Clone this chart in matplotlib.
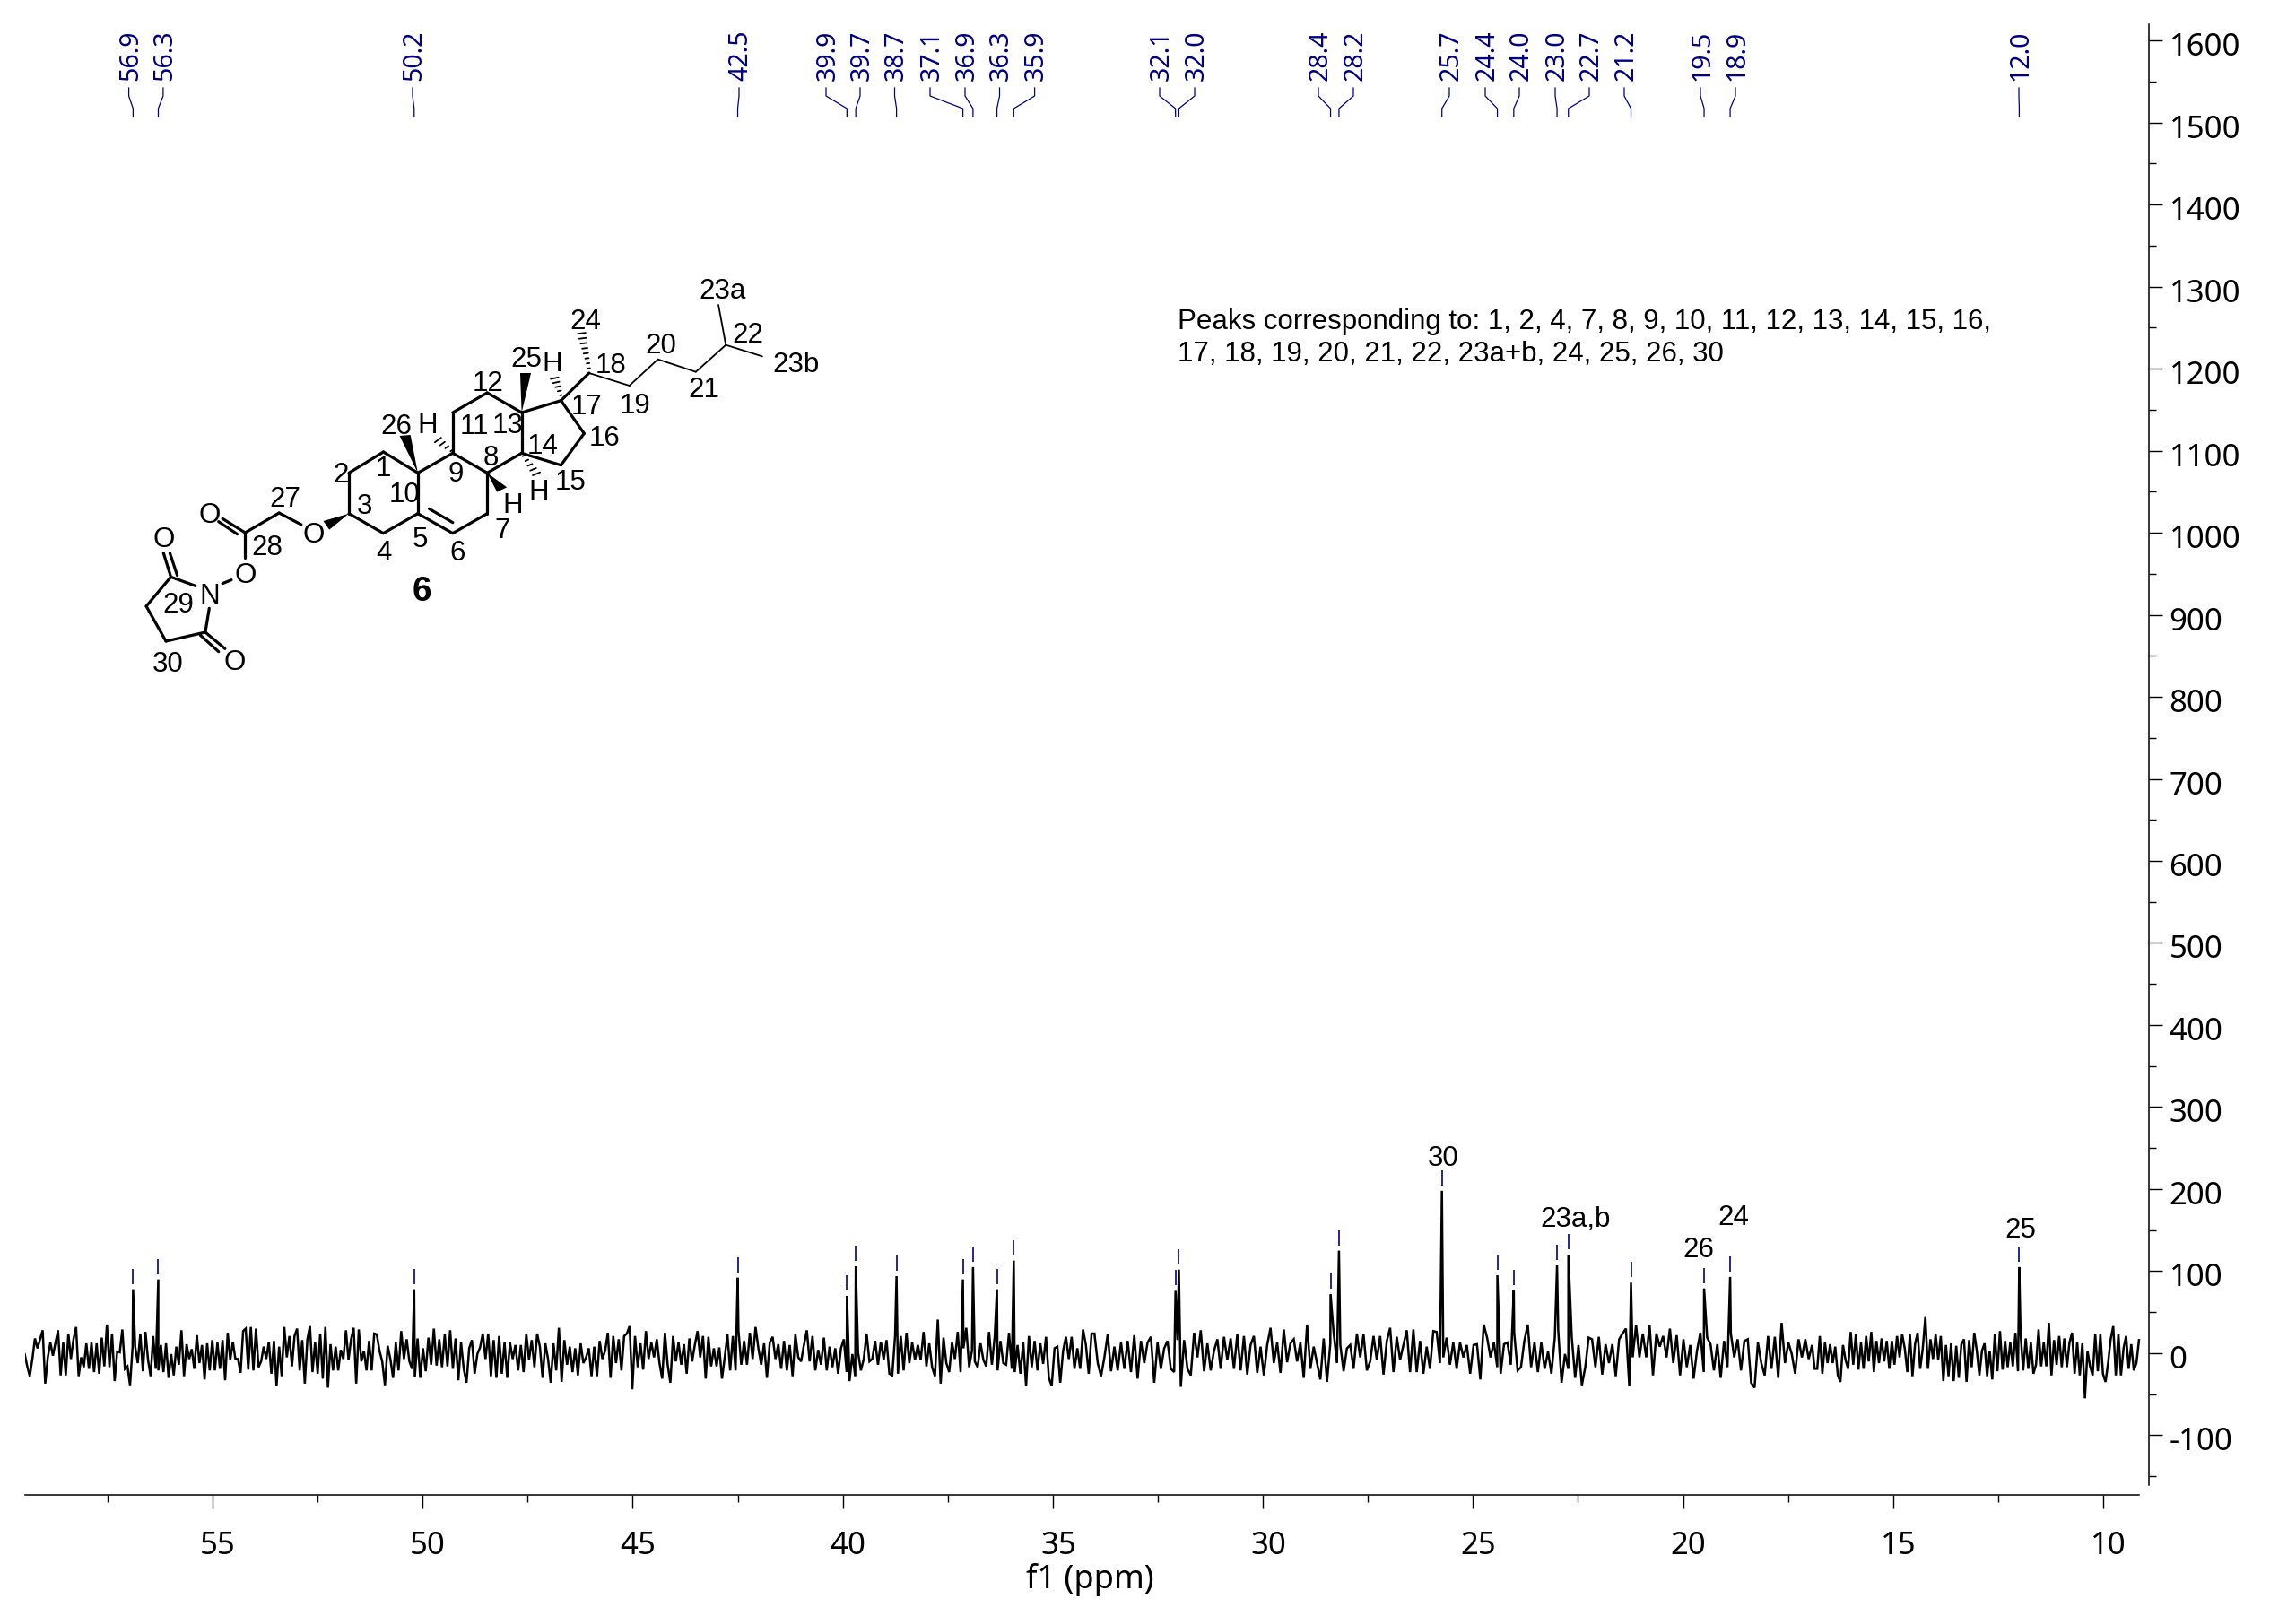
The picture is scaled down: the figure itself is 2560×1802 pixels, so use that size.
import numpy as np
import matplotlib
matplotlib.use("Agg")
import matplotlib.pyplot as plt
from matplotlib.transforms import ScaledTranslation

plt.rcParams["axes.unicode_minus"] = False

# peak picking
peak_ppm = [56.89, 56.29, 50.20, 42.50, 39.90, 39.69, 38.72, 37.14, 36.90, 36.33, 35.93,
            32.08, 32.00, 28.39, 28.19, 25.74, 24.42, 24.03, 23.00, 22.73, 21.24,
            19.50, 18.88, 12.00]
peak_height = [78, 90, 78, 92, 70, 106, 94, 90, 105, 78, 113,
               76, 102, 72, 125, 198, 95, 77, 107, 120, 86,
               79, 93, 105]
peak_labels = ["56.9", "56.3", "50.2", "42.5", "39.9", "39.7", "38.7", "37.1", "36.9", "36.3", "35.9",
               "32.1", "32.0", "28.4", "28.2", "25.7", "24.4", "24.0", "23.0", "22.7", "21.2",
               "19.5", "18.9", "12.0"]

# baseline noise, one list per stretch
strip_edges = [59.47, 51.09, 42.55, 34.01, 25.47, 16.93, 9.15]
noise_a = [-1,-16,-28,-7,18,6,17,28,-37,-5,13,-3,13,28,-27,13,-27,24,-7,17,32,-28,-5,-17,12,-19,13,-23,12,-25,
           19,-16,35,-17,24,-34,2,1,29,-19,-16,-39,8,8,-12,24,-22,26,-8,-28,21,-19,-21,10,-23,12,-30,-1,-27,8,
           -14,28,-28,11,-7,5,-19,22,-12,10,-32,12,-21,16,-21,13,-19,16,-33,25,-8,14,-7,-7,-24,27,30,-20,32,-21,
           30,-17,-10,8,-7,14,-25,15,-40,8,-28,32,-5,21,-16,21,30,-21,16,-37,17,33,-23,13,-25,24,-31,32,-42,11,
           -21,8,-21,4,-7,28,-8,17,31,-37,29,-10,3,-21,15,-21,24]
noise_b = [23,3,-10,-39,9,-7,-30,13,-21,27,-7,17,-10,-19,-29,18,-30,6,-22,19,-14,30,-15,17,-17,23,-16,28,-19,18,
           -33,13,-19,-36,6,16,-25,-1,7,24,-7,24,-28,16,-30,21,-25,13,-30,13,-7,10,-21,10,-23,24,-8,16,-17,24,
           8,-30,12,-7,-36,12,-21,31,-35,16,-14,8,-23,6,-27,12,-12,-5,6,-28,8,-28,15,-7,3,25,-30,21,-12,17,
           -21,21,24,33,-44,21,-17,12,-20,27,-7,13,-5,17,-12,-31,25,-14,-36,21,-10,13,-14,11,-25,18,-10,10,27,-5,
           21,-31,20,-16,6,-16,7,-31,-5,23,-21,21]
noise_c = [-21,28,-14,15,-14,25,-7,32,6,-14,12,-30,13,20,-7,11,-19,15,-21,10,-28,23,-5,-10,10,28,-10,21,-21,4,
           -14,19,-21,8,-17,6,-25,6,17,-23,-34,-1,-28,1,-21,-7,24,-10,-7,15,-14,14,-8,16,-25,-27,21,-25,21,-21,
           25,-12,13,-8,10,-8,26,-16,12,-17,-28,41,-37,19,-12,-23,13,-7,26,-23,6,31,-17,3,-10,-17,12,-8,-16,26,
           -14,21,-21,15,-12,-14,25,-19,-23,10,-25,13,-40,21,-17,15,-21,12,-13,20,-30,-40,6,8,-36,3,20,-7,20,-19,
           6,-19,29,10,-25,24]
noise_d = [24,-12,-28,-5,23,-22,8,-21,13,-19,15,-23,22,-31,15,-12,13,20,-36,13,-19,6,15,-19,-23,16,-41,16,-19,-27,
           25,-5,28,-22,12,-21,3,17,-19,20,-8,18,-19,23,-21,21,-26,10,21,-24,8,-27,10,31,-12,13,-24,29,-11,12,
           17,-10,13,-30,35,-19,8,-12,-32,18,-35,12,25,-12,10,-22,6,10,-19,24,-5,23,-21,-10,21,-8,21,-26,15,31,
           -23,20,-8,10,28,-23,29,-23,15,-25,8,-19,27,26,-12,-5,19,-14]
noise_e = [13,-19,13,-5,10,-25,10,11,-32,35,19,-5,13,-17,-25,11,13,-14,25,-21,-17,15,35,-17,13,-23,13,-19,2,-25,
           19,28,-36,-1,-19,20,-30,10,-39,-17,19,17,-17,20,-26,11,-12,11,-28,17,24,30,-40,-5,34,-5,24,-5,34,-27,
           24,8,21,-5,30,-12,22,-27,17,-17,10,-31,3,25,-23,19,11,-21,11,-30,15,-17,24,-5,17,-21,15,17,-36,-42,
           13,-12,-27,21,-19,20,-30,37,-12,13,-1,-25,17,-5,17,-7]
noise_f = [10,-19,-19,21,-25,13,-12,11,-12,8,-27,-35,10,-8,-19,26,-14,23,-20,13,-19,21,-10,26,-23,15,-12,18,-10,15,
           -19,15,-14,21,-5,23,6,-23,23,-28,11,25,-19,6,44,-19,17,-7,23,-8,21,-34,10,-28,12,-34,9,-30,11,17,
           -35,16,-17,25,3,-27,3,12,-28,3,-32,23,-22,27,-20,15,-17,13,-16,25,-22,24,-21,18,-19,13,-25,-14,29,-16,
           13,-16,37,-27,16,-14,21,-17,18,-17,13,25,-25,13,-27,12,-55,3,-16,-27,23,-22,23,-25,-35,-12,17,33,-27,24,
           -27,6,21,-19,11,-21,-12,16]
noise_strips = [noise_a, noise_b, noise_c, noise_d, noise_e, noise_f]

x_major = [55, 50, 45, 40, 35, 30, 25, 20, 15, 10]
y_major = list(range(-100, 1601, 100))

# carbons assigned on the spectrum
assigned_labels = ["30", "23a,b", "26", "24", "25"]

# layout in image pixels
top_label_x = [145.6, 183.9, 462, 826, 923, 961, 999.5, 1039, 1078, 1116.5, 1155.6,
               1295, 1334, 1472, 1511, 1618, 1658, 1696, 1736, 1774, 1813,
               1898, 1937, 2253]
assigned_xy = [(1609, 1292), (1757, 1360), (1894, 1394), (1933, 1358), (2253, 1372)]

NAVY = "#000080"
AXIS_FONT = "Noto Sans"
MOL_FONT = "Liberation Sans"
LABEL_SIZE = 22.5
W, H = 2560, 1802

fig = plt.figure(figsize=(W / 100, H / 100), dpi=100)
ax = fig.add_axes([27.5 / W, 1 - 1667 / H, (2395.7 - 27.5) / W, (1667 - 27) / H])
ax.patch.set_alpha(0)

# noise stretches plus the peak tops, sorted along the ppm axis
xs, ys = [], []
for i, strip in enumerate(noise_strips):
    xs.append(np.linspace(strip_edges[i], strip_edges[i + 1], len(strip), endpoint=i == len(noise_strips) - 1))
    ys.append(np.array(strip, dtype=float))
xs.append(np.array(peak_ppm))
ys.append(np.array(peak_height, dtype=float))
xs = np.concatenate(xs)
ys = np.concatenate(ys)
order = np.argsort(-xs)
ax.plot(xs[order], ys[order], color="black", lw=1.8, solid_joinstyle="miter")

ax.set_xlim(59.47, 8.92)
ax.set_ylim(-172.7, 1619.7)
ax.spines["top"].set_visible(False)
ax.spines["left"].set_visible(False)
ax.spines["right"].set_bounds(-161, 1620)
ax.spines["bottom"].set_bounds(59.47, 9.15)
ax.spines["right"].set_linewidth(1.1)
ax.spines["bottom"].set_linewidth(1.1)

ax.yaxis.tick_right()
ax.set_xticks(x_major)
ax.set_xticks(np.arange(57.5, 9, -5), minor=True)
ax.set_yticks(y_major)
ax.set_yticks(np.arange(-150, 1600, 100), minor=True)
ax.tick_params(axis="both", which="major", length=10.5, width=1.0, labelsize=25, pad=6)
ax.tick_params(axis="both", which="minor", length=5.5, width=1.0)
ax.tick_params(axis="x", which="major", pad=18)
for lbl in ax.get_xticklabels():
    lbl.set_fontfamily(AXIS_FONT)
    lbl.set_transform(lbl.get_transform() + ScaledTranslation(6 / 100, 0, fig.dpi_scale_trans))
for lbl in ax.get_yticklabels():
    lbl.set_fontfamily(AXIS_FONT)
    lbl.set_transform(lbl.get_transform() + ScaledTranslation(0, -4 / 100, fig.dpi_scale_trans))

# overlay in image pixels for everything that is not on the data axes
ov = fig.add_axes([0, 0, 1, 1])
ov.set_xlim(0, W)
ov.set_ylim(H, 0)
ov.axis("off")

ov.text(1215, 1762, "f1 (ppm)", fontsize=26, family=AXIS_FONT, ha="center", va="center")

# peak list along the top with connectors, and small ticks over the peaks
for ppm, height, label, lx in zip(peak_ppm, peak_height, peak_labels, top_label_x):
    px, py = ax.transData.transform((ppm, height))
    py = H - py
    ov.plot([lx - 2, lx - 2, px, px], [98, 107, 121, 130], color=NAVY, lw=0.9)
    ov.text(lx, 62, label, rotation=90, color=NAVY, fontsize=20.5, family=AXIS_FONT, ha="center", va="center")
    ov.plot([px, px], [py - 23, py - 6], color=NAVY, lw=1.2, solid_capstyle="butt")

for label, (lx, ly) in zip(assigned_labels, assigned_xy):
    ov.text(lx, ly, label, fontsize=LABEL_SIZE, family=MOL_FONT, ha="center", va="center")

ov.text(1313, 359, "Peaks corresponding to: 1, 2, 4, 7, 8, 9, 10, 11, 12, 13, 14, 15, 16,",
        fontsize=LABEL_SIZE, family=MOL_FONT, ha="left", va="center")
ov.text(1313, 395, "17, 18, 19, 20, 21, 22, 23a+b, 24, 25, 26, 30",
        fontsize=LABEL_SIZE, family=MOL_FONT, ha="left", va="center")


# structure drawing, coordinates measured on a crop of the image
def mx(x):
    return 100 + x / 1.823


def my(y):
    return 280 + y / 3


def bond(p, q, lw=2.3):
    ov.plot([mx(p[0]), mx(q[0])], [my(p[1]), my(q[1])], color="black", lw=lw, solid_capstyle="round")


def wedge(tip, a, b):
    ov.fill([mx(tip[0]), mx(a[0]), mx(b[0])], [my(tip[1]), my(a[1]), my(b[1])], color="black", lw=0)


def hashed(p, q, n=6):
    for t in np.linspace(0, 1, n):
        cx = p[0] + (q[0] - p[0]) * t
        cy = p[1] + (q[1] - p[1]) * t
        half = 2 + 6 * t
        dx, dy = q[1] - p[1], -(q[0] - p[0])
        d = np.hypot(dx, dy)
        bond((cx - dx / d * half, cy - dy / d * half * 1.6), (cx + dx / d * half, cy + dy / d * half * 1.6), lw=1.3)


thick_bonds = [
    ((667, 742), (597, 672)), ((597, 672), (527, 742)), ((527, 742), (527, 878)), ((527, 878), (597, 944)),
    ((597, 944), (667, 878)), ((667, 878), (667, 742)), ((667, 742), (738, 676)), ((738, 676), (808, 742)),
    ((808, 742), (808, 878)), ((808, 878), (738, 944)), ((738, 944), (667, 878)), ((690, 862), (738, 908)),
    ((738, 676), (738, 540)), ((738, 540), (808, 474)), ((808, 474), (878, 540)), ((878, 540), (878, 676)),
    ((878, 676), (808, 742)), ((878, 540), (958, 500)), ((958, 500), (1005, 610)), ((1005, 610), (958, 716)),
    ((958, 716), (878, 676)), ((958, 500), (1015, 408)),
    ((430, 915), (385, 876)), ((385, 876), (316, 942)), ((316, 942), (270, 895)), ((300, 947), (262, 905)),
    ((316, 942), (316, 1025)), ((288, 1100), (270, 1112)), ((215, 1120), (165, 1090)), ((165, 1090), (115, 1188)),
    ((115, 1188), (155, 1305)), ((155, 1305), (235, 1275)), ((235, 1275), (243, 1195)),
    ((165, 1090), (150, 1010)), ((178, 1085), (163, 1010)), ((235, 1275), (275, 1330)), ((225, 1285), (262, 1340)),
]
thin_bonds = [
    ((1015, 408), (1097, 450)), ((1097, 450), (1155, 362)), ((1155, 362), (1232, 404)),
    ((1232, 404), (1293, 314)), ((1293, 314), (1278, 180)), ((1293, 314), (1367, 352)),
]
for p, q in thick_bonds:
    bond(p, q)
for p, q in thin_bonds:
    bond(p, q, lw=1.3)

wedge((667, 742), (630, 618), (652, 615))
wedge((878, 540), (875, 408), (897, 408))
wedge((808, 742), (828, 806), (848, 790))
wedge((527, 878), (475, 903), (487, 932))
hashed((735, 668), (708, 632), n=4)
hashed((958, 482), (945, 425), n=5)
hashed((1015, 392), (1000, 275), n=8)
hashed((882, 685), (908, 745), n=5)

mol_labels = [
    ("23a", 1287, 128), ("22", 1338, 275), ("23b", 1435, 375), ("24", 1007, 230), ("18", 1060, 378),
    ("20", 1160, 313), ("25", 888, 357), ("H", 940, 372), ("12", 810, 437), ("17", 1010, 517),
    ("19", 1108, 512), ("21", 1248, 460), ("11", 782, 582), ("13", 850, 580), ("16", 1047, 622),
    ("26", 623, 582), ("H", 686, 580), ("14", 920, 647), ("8", 816, 688), ("2", 510, 745),
    ("1", 596, 722), ("9", 745, 742), ("15", 978, 768), ("H", 913, 800), ("10", 640, 810),
    ("H", 860, 845), ("27", 397, 825), ("3", 558, 850), ("O", 243, 880), ("7", 838, 930),
    ("O", 455, 945), ("O", 150, 960), ("5", 672, 960), ("28", 360, 988), ("4", 597, 1005),
    ("6", 748, 1005), ("O", 316, 1080), ("N", 243, 1150), ("29", 180, 1178), ("30", 158, 1378),
    ("O", 295, 1370),
]
for text, x, y in mol_labels:
    ov.text(mx(x), my(y + 6), text, fontsize=LABEL_SIZE, family=MOL_FONT, ha="center", va="center")
ov.text(mx(676), my(1141), "6", fontsize=28, family=MOL_FONT, weight="bold", ha="center", va="center")

fig.savefig("out.png", dpi=100)
